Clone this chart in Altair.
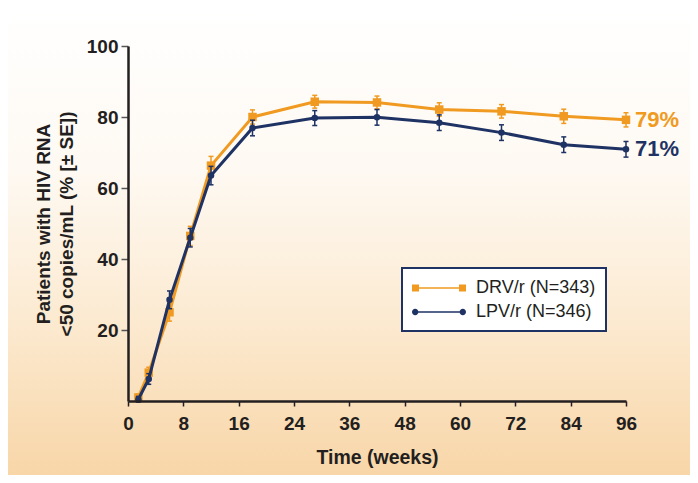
import json
import altair as alt
import pandas as pd

# ---- data ----
weeks = [2, 4, 8, 12, 16, 24, 36, 48, 60, 72, 84, 96]
drv = [1.0, 8.0, 25.0, 46.5, 66.3, 80.0, 84.3, 84.1, 82.1, 81.6, 80.2, 79.2]
drv_se = [1.0, 1.5, 2.5, 2.7, 2.6, 2.0, 1.8, 1.8, 1.9, 1.9, 2.0, 2.0]
lpv = [0.5, 6.2, 28.5, 46.0, 63.5, 76.9, 79.7, 79.9, 78.4, 75.6, 72.2, 70.9]
lpv_se = [0.8, 1.5, 2.5, 2.6, 2.6, 2.2, 2.1, 2.2, 2.2, 2.2, 2.2, 2.2]
series = ["DRV/r (N=343)", "LPV/r (N=346)"]
colors = ["#F09A21", "#1E3264"]
shapes = ["square", "circle"]
end_labels = ["79%", "71%"]
x_tick_labels = ["0", "8", "16", "24", "36", "48", "60", "72", "84", "96"]
y_ticks = [20, 40, 60, 80, 100]
y_title = ["Patients with HIV RNA", "<50 copies/mL (% [\u00b1 SE])"]
x_title = "Time (weeks)"

FONT = "Liberation Sans, Arial, sans-serif"
INK = "#231F20"
W, H = 498, 355
PAD = {"left": 120, "top": 38, "right": 64, "bottom": 74}

rows = []
for s, vals, ses in [(series[0], drv, drv_se), (series[1], lpv, lpv_se)]:
    for w, v, e in zip(weeks, vals, ses):
        rows.append({"series": s, "week": w, "pct": v, "lo": v - e, "hi": v + e})
df = pd.DataFrame(rows)
ends = pd.DataFrame({"series": series, "week": [weeks[-1]] * 2,
                     "pct": [drv[-1], lpv[-1]], "label": end_labels})

# the original's ticks are evenly spaced over the 0-96 range but labelled 0,8,16,24,36,...
n = len(x_tick_labels) - 1
x_tick_pos = [weeks[-1] * k / n for k in range(n + 1)]
label_expr = f"{json.dumps(x_tick_labels)}[round(datum.value*{n}/{weeks[-1]})]"

xscale = alt.Scale(domain=[0, 96], nice=False, zero=True)
yscale = alt.Scale(domain=[0, 100], nice=False)

xaxis = alt.Axis(values=x_tick_pos, labelExpr=label_expr, title=x_title, grid=False, zindex=1,
                 domainColor=INK, domainWidth=2.5, tickColor=INK, tickSize=5, tickWidth=1.5,
                 labelFont=FONT, labelFontSize=19, labelFontWeight="bold", labelColor=INK,
                 labelPadding=8, labelFlush=False, titleFont=FONT, titleFontSize=19.5,
                 titleFontWeight="bold", titleColor=INK, titlePadding=15)
yaxis = alt.Axis(values=y_ticks, title=y_title, grid=False, zindex=1,
                 domainColor=INK, domainWidth=2.5, tickColor="#555555", tickSize=7, tickWidth=1.5,
                 labelFont=FONT, labelFontSize=19, labelFontWeight="bold", labelColor=INK,
                 labelPadding=3, titleFont=FONT, titleFontSize=19, titleFontWeight="bold",
                 titleColor=INK, titleLineHeight=23, titlePadding=10)

X = alt.X("week:Q", scale=xscale, axis=xaxis)
Y = alt.Y("pct:Q", scale=yscale, axis=yaxis)

# background gradient panel
bg = alt.Chart(pd.DataFrame({"a": [0]})).mark_rect(
    color=alt.LinearGradient(gradient="linear", x1=0, x2=0, y1=0, y2=1,
                             stops=[alt.GradientStop(color="#FFFFFF", offset=0),
                                    alt.GradientStop(color="#FEF9F2", offset=0.35),
                                    alt.GradientStop(color="#FCEBD3", offset=0.65),
                                    alt.GradientStop(color="#F8D6A8", offset=1)])
).encode(x=alt.value(-PAD["left"]), x2=alt.value(W + PAD["right"]),
         y=alt.value(-PAD["top"]), y2=alt.value(H + PAD["bottom"]))

# legend symbols: line with a marker at each end
path_sq = "M-1,-0.35H-0.3V-0.08H3.7V-0.35H4.4V0.35H3.7V0.08H-0.3V0.35H-1Z"
path_ci = ("M-1,0A0.32,0.32 0 1,1 -0.36,0A0.32,0.32 0 1,1 -1,0Z "
           "M3.76,0A0.32,0.32 0 1,1 4.4,0A0.32,0.32 0 1,1 3.76,0Z "
           "M-0.68,-0.08H4.08V0.08H-0.68Z")
leg = alt.Legend(title=None, orient="none", legendX=274, legendY=222, direction="vertical",
                 strokeColor="#1E3264", fillColor="#FFFFFF", padding=10, cornerRadius=0,
                 symbolSize=400, symbolStrokeWidth=0, labelOffset=44, rowPadding=5,
                 labelExpr="datum.label + '\u00a0\u00a0'",
                 labelFont=FONT, labelFontSize=18, labelColor=INK, labelFontWeight="normal")
legend_layer = alt.Chart(df).mark_point(filled=True, size=1, opacity=1).encode(
    x=X, y=Y,
    color=alt.Color("series:N", scale=alt.Scale(domain=series, range=colors), legend=leg),
    shape=alt.Shape("series:N", scale=alt.Scale(domain=series, range=[path_sq, path_ci]), legend=leg),
)

layers = [bg, legend_layer]
for s, c, shp in zip(series, colors, shapes):
    base = alt.Chart(df).transform_filter(alt.datum.series == s)
    layers.append(base.mark_line(color=c, strokeWidth=3).encode(x=X, y=Y))
    layers.append(base.mark_rule(color=c, strokeWidth=1.5).encode(x=X, y="lo:Q", y2="hi:Q"))
    layers.append(base.mark_tick(color=c, orient="horizontal", size=5, thickness=1.5, opacity=1)
                  .encode(x=X, y=alt.Y("lo:Q")))
    layers.append(base.mark_tick(color=c, orient="horizontal", size=5, thickness=1.5, opacity=1)
                  .encode(x=X, y=alt.Y("hi:Q")))
    size = 72 if shp == "square" else 42
    layers.append(base.mark_point(shape=shp, filled=True, size=size, color=c, opacity=1)
                  .encode(x=X, y=Y))
    layers.append(alt.Chart(ends).transform_filter(alt.datum.series == s)
                  .mark_text(align="left", baseline="middle", dx=9, font=FONT, fontSize=22,
                             fontWeight="bold", color=c)
                  .encode(x=X, y=Y, text="label:N"))

chart = alt.layer(*layers).properties(
    width=W, height=H, padding=PAD, autosize=alt.AutoSizeParams(type="none"),
    background="#FFFFFF"
).configure_view(stroke=None).configure_legend(strokeWidth=2)

chart.save("out.html", embed_options={"renderer": "svg", "actions": False})
